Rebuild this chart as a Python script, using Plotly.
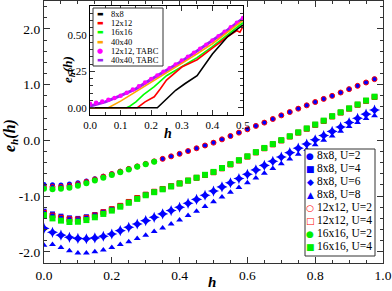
import plotly.graph_objects as go

# ---------------- main panel data ----------------
h_main = [0.000, 0.025, 0.050, 0.075, 0.100, 0.125, 0.150, 0.175, 0.200, 0.225,
          0.250, 0.275, 0.300, 0.325, 0.350, 0.375, 0.400, 0.425, 0.450, 0.475,
          0.500, 0.525, 0.550, 0.575, 0.600, 0.625, 0.650, 0.675, 0.700, 0.725,
          0.750, 0.775, 0.800, 0.825, 0.850, 0.875, 0.900, 0.925, 0.950, 0.975]

e8_U2 = [-0.79, -0.795, -0.80, -0.785, -0.76, -0.73, -0.69, -0.645, -0.60, -0.555,
         -0.51, -0.465, -0.42, -0.375, -0.33, -0.285, -0.24, -0.19, -0.14, -0.09,
         -0.04, 0.02, 0.08, 0.14, 0.20, 0.26, 0.32, 0.385, 0.45, 0.51,
         0.57, 0.63, 0.69, 0.745, 0.80, 0.86, 0.92, 0.98, 1.04, 1.10]
e8_U4 = [-1.27, -1.32, -1.36, -1.39, -1.40, -1.37, -1.33, -1.28, -1.23, -1.17,
         -1.10, -1.03, -0.97, -0.92, -0.87, -0.82, -0.77, -0.72, -0.67, -0.62,
         -0.57, -0.50, -0.43, -0.36, -0.29, -0.215, -0.14, -0.07, 0.00, 0.07,
         0.14, 0.21, 0.28, 0.35, 0.43, 0.50, 0.57, 0.64, 0.71, 0.78]
e8_U6 = [-1.58, -1.65, -1.70, -1.74, -1.76, -1.765, -1.75, -1.72, -1.68, -1.62,
         -1.56, -1.50, -1.44, -1.38, -1.32, -1.26, -1.20, -1.13, -1.06, -0.985,
         -0.91, -0.835, -0.76, -0.685, -0.61, -0.53, -0.45, -0.375, -0.30, -0.22,
         -0.14, -0.065, 0.01, 0.085, 0.16, 0.24, 0.32, 0.395, 0.47, 0.545]
e8_U8 = [-1.88, -1.87, -1.92, -1.98, -2.02, -2.02, -2.00, -1.965, -1.92, -1.87,
         -1.82, -1.76, -1.70, -1.635, -1.57, -1.50, -1.43, -1.35, -1.27, -1.185,
         -1.10, -1.015, -0.93, -0.845, -0.76, -0.675, -0.59, -0.505, -0.42, -0.335,
         -0.25, -0.165, -0.08, 0.00, 0.08, 0.165, 0.25, 0.32, 0.39, 0.44]
e12_U2 = [-0.83, -0.835, -0.835, -0.815, -0.785, -0.745, -0.70, -0.65, -0.605, -0.56,
          -0.512, -0.467, -0.422, -0.377, -0.332, -0.287, -0.242, -0.192, -0.142, -0.092,
          -0.042, 0.018, 0.078, 0.138, 0.198, 0.258, 0.318, 0.383, 0.448, 0.508,
          0.568, 0.628, 0.688, 0.743, 0.798, 0.858, 0.918, 0.978, 1.038, 1.098]
e12_U4 = [-1.30, -1.35, -1.39, -1.415, -1.42, -1.39, -1.345, -1.29, -1.235, -1.175,
          -1.105, -1.035, -0.975, -0.922, -0.872, -0.822, -0.772, -0.722, -0.672, -0.622,
          -0.572, -0.502, -0.432, -0.362, -0.292, -0.217, -0.142, -0.072, -0.002, 0.068,
          0.138, 0.208, 0.278, 0.348, 0.428, 0.498, 0.568, 0.638, 0.708, 0.778]
h16_U2 = h_main[:14]
e16_U2 = [-0.87, -0.875, -0.87, -0.85, -0.815, -0.77, -0.72, -0.67, -0.62, -0.57,
          -0.522, -0.475, -0.428, -0.382]
e16_U4 = [-1.34, -1.40, -1.44, -1.465, -1.46, -1.43, -1.38, -1.32, -1.26, -1.19,
          -1.12, -1.05, -0.985, -0.93, -0.878, -0.826, -0.774, -0.722, -0.67, -0.618,
          -0.566, -0.496, -0.426, -0.356, -0.286, -0.211, -0.136, -0.066, 0.004, 0.074,
          0.144, 0.214, 0.284, 0.354, 0.434, 0.504, 0.574, 0.644, 0.714, 0.784]

main_y_ticks = [-2, -1, 0, 1, 2]
main_y_labels = ["-2.0", "-1.0", "0.0", "1.0", "2.0"]
main_x_ticks = [0, 0.2, 0.4, 0.6, 0.8, 1.0]
main_x_labels = ["0.0", "0.2", "0.4", "0.6", "0.8", "1.0"]

# ---------------- inset data ----------------
hi_8 = [0, 0.22, 0.25, 0.28, 0.31, 0.35, 0.40, 0.45, 0.50]
ei_8 = [0, 0, 0.06, 0.12, 0.165, 0.22, 0.37, 0.49, 0.57]
hi_12 = [0, 0.155, 0.18, 0.21, 0.23, 0.25, 0.30, 0.35, 0.40, 0.45, 0.48, 0.49, 0.50]
ei_12 = [0, 0, 0.04, 0.075, 0.13, 0.19, 0.28, 0.33, 0.41, 0.49, 0.53, 0.52, 0.56]
hi_16 = [0, 0.12, 0.13, 0.15, 0.175, 0.21, 0.25, 0.30, 0.35, 0.40, 0.45, 0.50]
ei_16 = [0, 0, 0.01, 0.04, 0.09, 0.145, 0.22, 0.285, 0.345, 0.42, 0.50, 0.585]
hi_40 = [0, 0.06, 0.10, 0.15, 0.20, 0.25, 0.30, 0.35, 0.40, 0.45, 0.50]
ei_40 = [0, 0, 0.045, 0.11, 0.175, 0.235, 0.30, 0.37, 0.44, 0.52, 0.60]
hi_40t = [0, 0.05, 0.10, 0.15, 0.20, 0.25, 0.30, 0.35, 0.40, 0.45, 0.50]
ei_40t = [0.012, 0.04, 0.083, 0.13, 0.195, 0.255, 0.32, 0.39, 0.46, 0.535, 0.615]
hi_12t = [0.00, 0.02, 0.04, 0.06, 0.08, 0.10, 0.12, 0.14, 0.16, 0.18, 0.20, 0.22, 0.24,
          0.26, 0.28, 0.30, 0.32, 0.34, 0.36, 0.38, 0.40, 0.42, 0.44, 0.46, 0.48, 0.50]
ei_12t = [0.027, 0.034, 0.043, 0.054, 0.067, 0.082, 0.103, 0.125, 0.148, 0.173, 0.198,
          0.222, 0.247, 0.272, 0.298, 0.324, 0.351, 0.378, 0.406, 0.434, 0.463, 0.492,
          0.522, 0.553, 0.585, 0.617]

inset_y_ticks = [0, 0.25, 0.5]
inset_y_labels = ["0.00", "0.25", "0.50"]
inset_x_ticks = [0, 0.1, 0.2, 0.3, 0.4, 0.5]
inset_x_labels = ["0.0", "0.1", "0.2", "0.3", "0.4", "0.5"]

main_legend = [("●", "#0000ff", "8x8, U=2"), ("■", "#0000ff", "8x8, U=4"),
               ("◆", "#0000ff", "8x8, U=6"), ("▲", "#0000ff", "8x8, U=8"),
               ("○", "#ff0000", "12x12, U=2"), ("□", "#ff0000", "12x12, U=4"),
               ("●", "#00ee00", "16x16, U=2"), ("■", "#00ee00", "16x16, U=4")]
inset_legend = [("▬", "#000000", "8x8"), ("▬", "#ff0000", "12x12"),
                ("▬", "#00ff00", "16x16"), ("▬", "#ffa500", "40x40"),
                ("●", "#ff00ff", "12x12, TABC"), ("▬", "#a020f0", "40x40, TABC")]

BLUE, RED, GREEN = "#0000ff", "#ff0000", "#00ee00"
fig = go.Figure()

def mk(x, y, sym, color, size, open_=False, xa="x", ya="y"):
    if open_:
        m = dict(symbol=sym + "-open", size=size, color=color, line=dict(width=1, color=color))
    else:
        m = dict(symbol=sym, size=size, color=color, line=dict(width=0))
    fig.add_trace(go.Scatter(x=x, y=y, mode="markers", marker=m, xaxis=xa, yaxis=ya,
                             showlegend=False, hoverinfo="skip"))

mk(h_main, e8_U2, "circle", BLUE, 5)
mk(h_main, e8_U4, "square", BLUE, 5)
mk(h_main, e8_U6, "star-diamond", BLUE, 8)
mk(h_main, e8_U8, "triangle-up", BLUE, 6)
mk(h_main, e12_U2, "circle", RED, 5, open_=True)
mk(h_main, e12_U4, "square", RED, 5, open_=True)
mk(h16_U2, e16_U2, "circle", GREEN, 6)
mk(h_main, e16_U4, "square", GREEN, 6)

def ln(x, y, color, w):
    fig.add_trace(go.Scatter(x=x, y=y, mode="lines", line=dict(color=color, width=w),
                             xaxis="x2", yaxis="y2", showlegend=False, hoverinfo="skip"))

ln(hi_40t, ei_40t, "#a020f0", 3)
fig.add_trace(go.Scatter(x=hi_12t, y=ei_12t, mode="markers",
                         marker=dict(color="#ff00ff", size=4.5, line=dict(width=0)),
                         xaxis="x2", yaxis="y2", showlegend=False, hoverinfo="skip"))
ln(hi_40, ei_40, "#ffa500", 1.6)
ln(hi_16, ei_16, "#00ff00", 1.6)
ln(hi_12, ei_12, "#ff0000", 1.6)
ln(hi_8, ei_8, "#000000", 1.6)

FONT = "Liberation Serif"
axis_common = dict(showgrid=False, zeroline=False, showline=True, linecolor="#333",
                   linewidth=1.2, mirror="ticks", ticks="inside", tickcolor="#333",
                   tickwidth=1, tickmode="array")

fig.update_layout(
    width=392, height=291, margin=dict(l=44, r=9, t=1, b=28),
    plot_bgcolor="white", paper_bgcolor="white", showlegend=False,
    font=dict(family=FONT, color="black"),
    xaxis=dict(axis_common, range=[0, 1], tickvals=main_x_ticks, ticktext=main_x_labels,
               ticklen=6, tickfont=dict(size=13.5),
               minor=dict(dtick=0.05, tick0=0, ticklen=3, ticks="inside", tickcolor="#333")),
    yaxis=dict(axis_common, range=[-2.2, 2.5], tickvals=main_y_ticks, ticktext=main_y_labels,
               ticklen=6, tickfont=dict(size=13.5),
               minor=dict(dtick=0.2, tick0=0, ticklen=3, ticks="inside", tickcolor="#333")),
    xaxis2=dict(axis_common, domain=[0.1357, 0.587], anchor="y2", range=[0, 0.5],
                tickvals=inset_x_ticks, ticktext=inset_x_labels, ticklen=5,
                tickfont=dict(size=11), linecolor="black",
                minor=dict(dtick=0.05, tick0=0, ticklen=2.5, ticks="inside", tickcolor="#333")),
    yaxis2=dict(axis_common, domain=[0.565, 0.981], anchor="x2", range=[-0.05, 0.7],
                tickvals=inset_y_ticks, ticktext=inset_y_labels, ticklen=5,
                tickfont=dict(size=11), linecolor="black",
                minor=dict(dtick=0.05, tick0=0, ticklen=2.5, ticks="inside", tickcolor="#333")),
)

def px_x(px):
    return (px - 44) / 339.0

def px_y(py):
    return (263 - py) / 262.0

ann = []
ann.append(dict(text="<b><i>e<sub>h</sub>(h)</i></b>", x=px_x(10), y=px_y(136), textangle=-90,
                xanchor="center", font=dict(size=16, family=FONT)))
ann.append(dict(text="<b><i>h</i></b>", x=px_x(212), y=px_y(282), xanchor="center",
                font=dict(size=15, family=FONT)))
ann.append(dict(text="<b><i>e<sub>h</sub>(h)</i></b>", x=px_x(68), y=px_y(70), textangle=-90,
                xanchor="center", font=dict(size=13, family=FONT)))
ann.append(dict(text="<b><i>h</i></b>", x=px_x(168), y=px_y(133), xanchor="center",
                font=dict(size=14, family=FONT)))

shapes = []
# main legend
shapes.append(dict(type="rect", xref="paper", yref="paper", x0=px_x(305), x1=px_x(375),
                   y0=px_y(256), y1=px_y(149), fillcolor="white", line=dict(color="#333", width=1),
                   layer="above"))
for i, (sym, col, txt) in enumerate(main_legend):
    py = 156 + 12.95 * i
    ann.append(dict(text=sym, x=px_x(310), y=px_y(py), xanchor="center",
                    font=dict(size=9, color=col, family="DejaVu Sans")))
    ann.append(dict(text=txt, x=px_x(315), y=px_y(py), xanchor="left",
                    font=dict(size=11.5, family=FONT)))
# inset legend
shapes.append(dict(type="rect", xref="paper", yref="paper", x0=px_x(93), x1=px_x(163),
                   y0=px_y(66), y1=px_y(8), fillcolor="white", line=dict(color="#333", width=1),
                   layer="above"))
for i, (sym, col, txt) in enumerate(inset_legend):
    py = 14 + 9.2 * i
    ann.append(dict(text=sym, x=px_x(100), y=px_y(py), xanchor="center",
                    font=dict(size=7, color=col, family="DejaVu Sans")))
    ann.append(dict(text=txt, x=px_x(109), y=px_y(py), xanchor="left",
                    font=dict(size=8.5, family=FONT)))

for a in ann:
    a.setdefault("xref", "paper")
    a.setdefault("yref", "paper")
    a.setdefault("showarrow", False)
    a.setdefault("yanchor", "middle")
fig.update_layout(annotations=ann, shapes=shapes)

fig.write_html("out.html", config={"displayModeBar": False},
               post_script="document.body.style.margin='0';document.body.style.padding='0';")
